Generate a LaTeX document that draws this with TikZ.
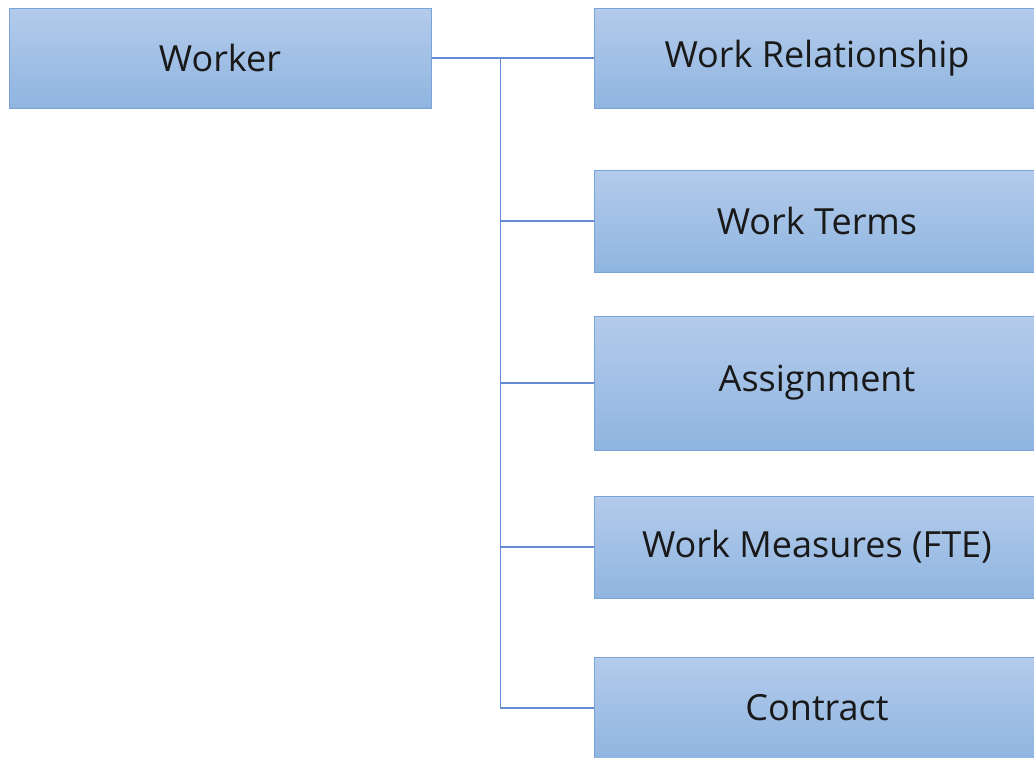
\documentclass[tikz,border=0pt]{standalone}
\usepackage{fontspec}
\setmainfont{Open Sans}
\usetikzlibrary{positioning}
\definecolor{boxtop}{RGB}{180,203,235}
\definecolor{boxbottom}{RGB}{143,181,224}
\definecolor{boxline}{RGB}{122,163,218}
\definecolor{linkline}{RGB}{100,140,212}
\tikzstyle{entity} = [rectangle, 
minimum width=446pt, 
minimum height=101pt, 
text centered, 
draw=boxline, line width=1pt,
top color=boxtop, bottom color=boxbottom,
text=black!90,
font=\fontsize{36}{42}\selectfont]
\tikzstyle{link} = [line width=1.3pt, draw=linkline]
\begin{document}
\begin{tikzpicture}[x=1pt, y=-1pt]
            \useasboundingbox (0,0) rectangle (1034,758);
            \node (worker) [entity, minimum width=422pt, minimum height=100pt] at (220,58) {Worker};
            \node (rel) [entity, minimum height=100pt] at (817,58) {Work Relationship};
            \node (terms) [entity, minimum height=102pt, below=61pt of rel] {Work Terms};
            \node (assign) [entity, minimum height=134pt, below=43pt of terms] {Assignment};
            \node (measures) [entity, minimum height=102pt, below=45pt of assign] {Work Measures (FTE)};
            \node (contract) [entity, minimum height=102pt, below=58pt of measures] {Contract};
            \coordinate (hub) at ([xshift=69pt]worker.east);

            \draw [link] (worker.east) -- (rel.west);
            \draw [link] (hub) |- (terms.west);
            \draw [link] (hub) |- (assign.west);
            \draw [link] (hub) |- (measures.west);
            \draw [link] (hub) |- (contract.west);
        \end{tikzpicture}
\end{document}
